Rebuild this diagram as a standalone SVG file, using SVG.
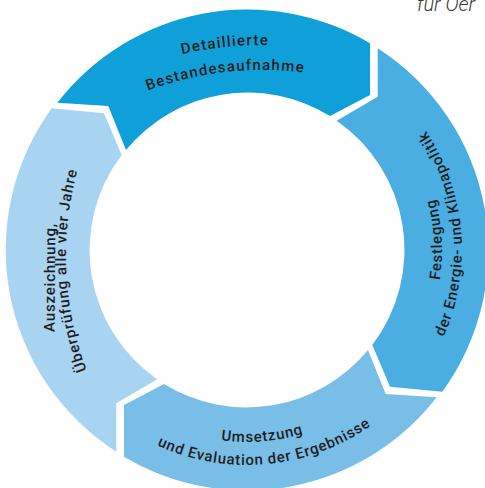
<svg xmlns="http://www.w3.org/2000/svg" width="485" height="488" viewBox="0 0 485 488">
  <style>
    .lbl { font-family: Roboto, "Liberation Sans", sans-serif; font-size: 15px; font-weight: 500; fill: #1e1e1e; letter-spacing: 0.8px; }
    .top { letter-spacing: 1.2px; }
    .hdr { font-family: Roboto, "Liberation Sans", sans-serif; font-size: 20px; font-style: italic; font-weight: 300; fill: #3a3a3a; }
  </style>
  <defs>
    <path id="segA" d="M57.3,102.7 A240,240 0 0 1 370,43.3 L370,95 L330,116 A157,157 0 0 0 126,150 L108.3,106 Z"/>
    <path id="segB" d="M377.7,48.3 A240,240 0 0 1 442.3,391.7 L390,386.7 L372.3,345 A157,157 0 0 0 336.7,120.7 L377.7,96.7 Z"/>
    <path id="pTop1" d="M-29.8,200.2 A352,352 0 0 1 506.5,143.8"/>
    <path id="pTop2" d="M-10.7,216.5 A327,327 0 0 1 487.1,159.8"/>
    <path id="pRight1" d="M380.5,392.2 A195,195 0 0 0 363.8,93.9"/>
    <path id="pRight2" d="M399,402 A215,215 0 0 0 370.3,73.9"/>
    <path id="pBot1" d="M89.2,359.3 A192,192 0 0 0 420.6,332.1"/>
    <path id="pBot2" d="M71.5,374.2 A215,215 0 0 0 442.3,339.8"/>
    <path id="pLeft1" d="M54,415 L56,140"/>
    <path id="pLeft2" d="M151.7,475.6 A324,324 0 0 1 132.5,59.3"/>
  </defs>

  <text class="hdr" x="417" y="11">für Oer</text>

  <g id="node-top">
    <use href="#segA" fill="#0f9fd9"/>
    <text class="lbl top"><textPath href="#pTop1" startOffset="50%" text-anchor="middle">Detaillierte</textPath></text>
    <text class="lbl top"><textPath href="#pTop2" startOffset="50%" text-anchor="middle">Bestandesaufnahme</textPath></text>
  </g>

  <g id="node-right">
    <use href="#segB" fill="#4baee3"/>
    <text class="lbl"><textPath href="#pRight1" startOffset="50%" text-anchor="middle">Festlegung</textPath></text>
    <text class="lbl"><textPath href="#pRight2" startOffset="50%" text-anchor="middle">der Energie- und Klimapolitik</textPath></text>
  </g>

  <g id="node-bottom">
    <use href="#segA" fill="#79bee7" transform="rotate(180 247 250)"/>
    <text class="lbl"><textPath href="#pBot1" startOffset="50%" text-anchor="middle">Umsetzung</textPath></text>
    <text class="lbl"><textPath href="#pBot2" startOffset="50%" text-anchor="middle">und Evaluation der Ergebnisse</textPath></text>
  </g>

  <g id="node-left">
    <use href="#segB" fill="#a9d4f1" transform="rotate(180 247 250)"/>
    <text class="lbl"><textPath href="#pLeft1" startOffset="50%" text-anchor="middle">Auszeichnung,</textPath></text>
    <text class="lbl"><textPath href="#pLeft2" startOffset="50%" text-anchor="middle">Überprüfung alle vier Jahre</textPath></text>
  </g>

  <g id="connectors"/>
</svg>
